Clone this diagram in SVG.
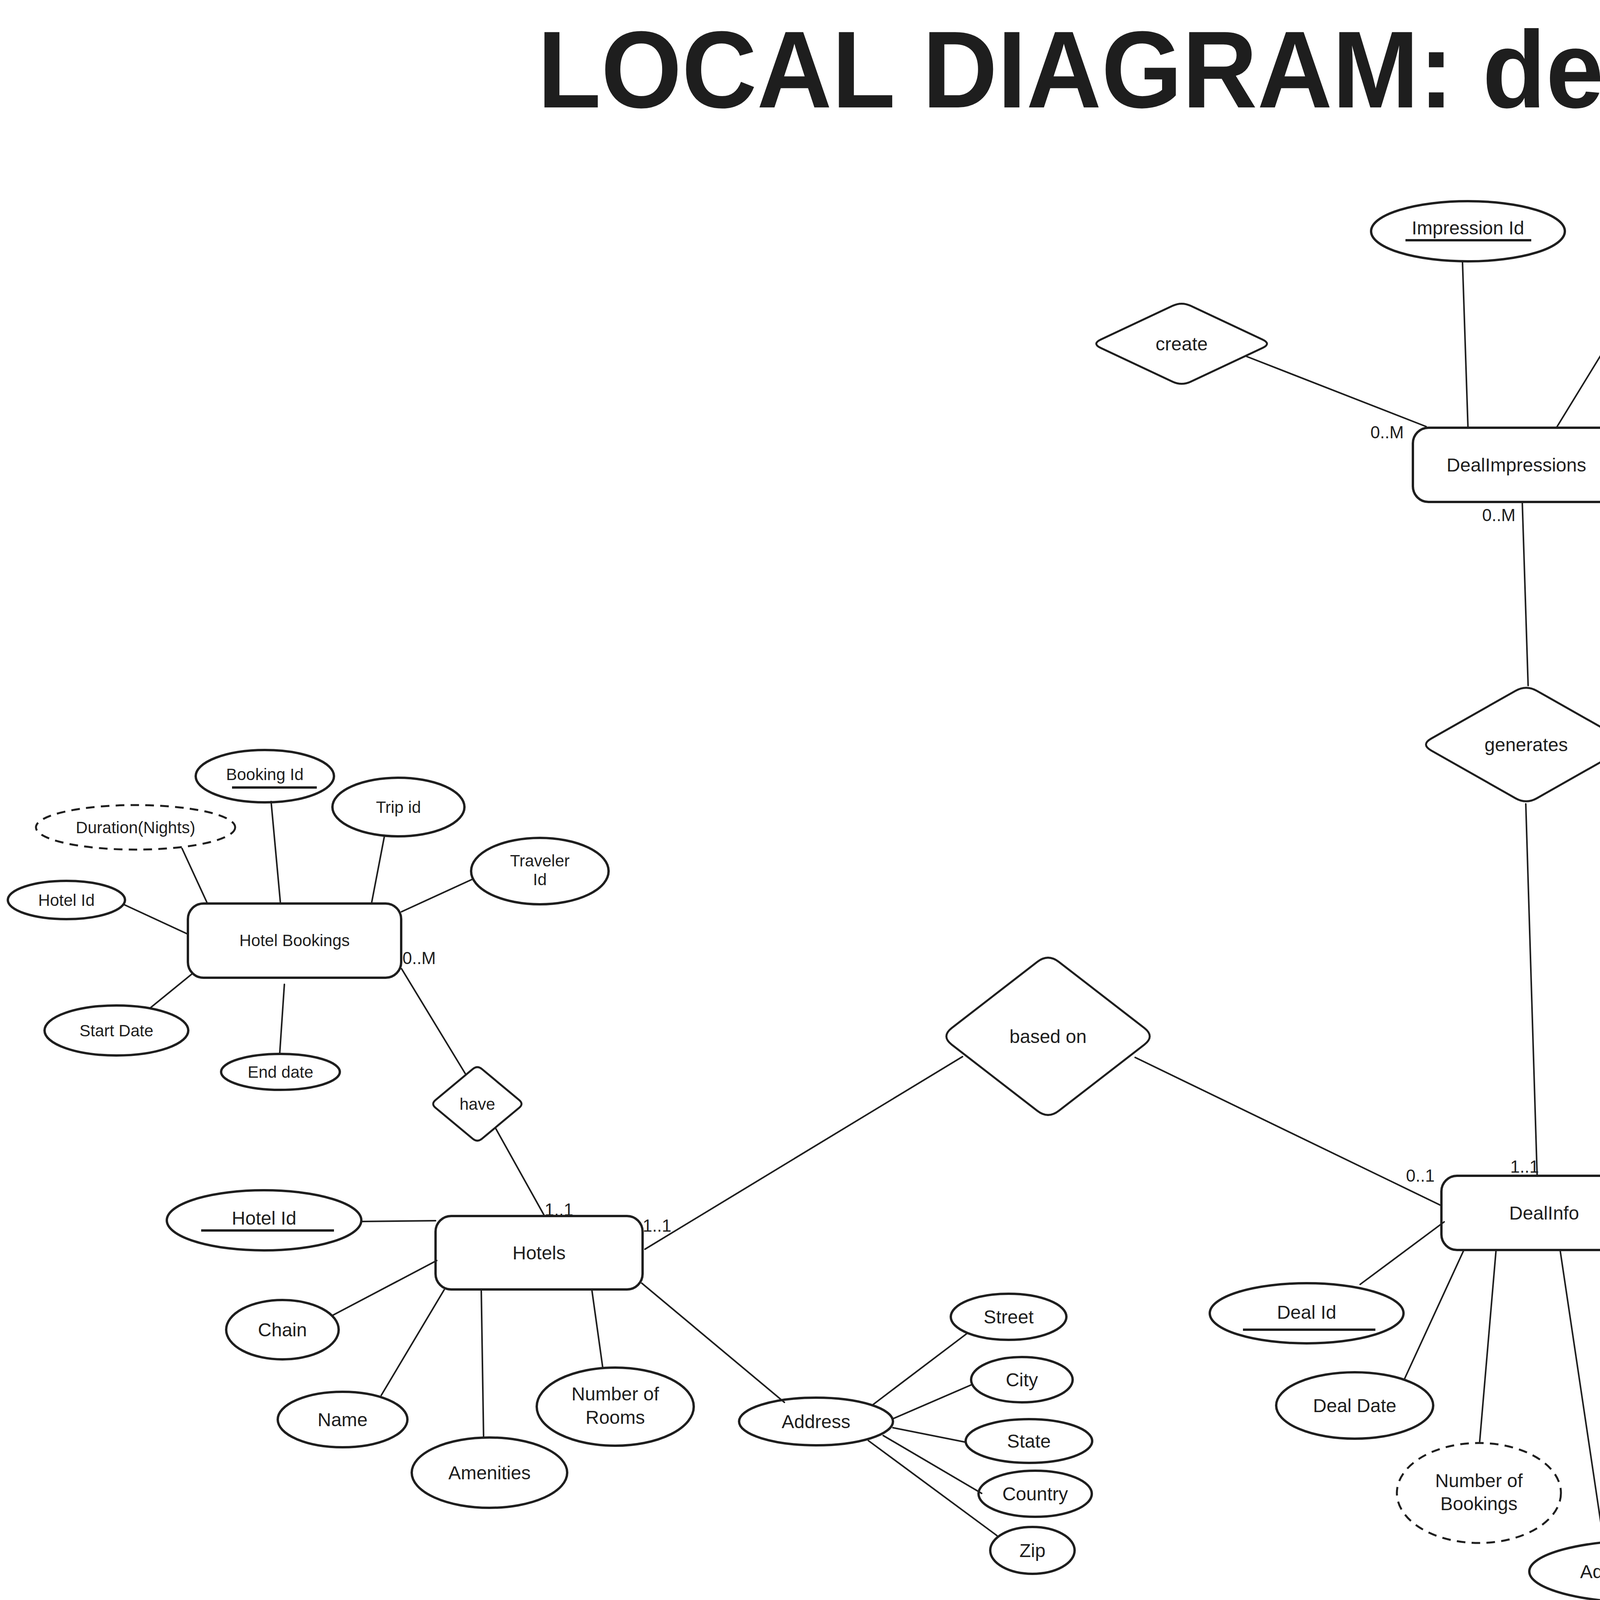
<svg xmlns="http://www.w3.org/2000/svg" width="7934" height="4125" viewBox="0 0 7934 4125">
<defs>
<style>
.bg{fill:#ffffff}
.ent{fill:none;stroke:#1e1e1e;stroke-width:6;stroke-linejoin:round}
.att{fill:none;stroke:#1e1e1e;stroke-width:6}
.der{fill:none;stroke:#1e1e1e;stroke-width:5;stroke-dasharray:22 16}
.rel{fill:none;stroke:#1e1e1e;stroke-width:5;stroke-linejoin:round}
.ul{stroke:#1e1e1e;stroke-width:6}
.con line{stroke:#1e1e1e;stroke-width:4;stroke-linecap:round}
text{font-family:"Liberation Sans",Arial,sans-serif;fill:#1e1e1e;text-anchor:middle}
.t{font-size:48px}
.ts{font-size:42px}
.card{font-size:44px}
.title{font-size:280px;font-weight:700;text-anchor:start}
</style>
</defs>
<rect class="bg" x="0" y="0" width="7934" height="4125"/>
<text class="title" x="1376" y="275" textLength="3927" lengthAdjust="spacingAndGlyphs">LOCAL DIAGRAM: dealAdmins</text>

<g id="connectors" class="con">
<line x1="3190" y1="912" x2="3651" y2="1092"/>
<line x1="3744" y1="671" x2="3758" y2="1094"/>
<line x1="4189" y1="761" x2="3985" y2="1094"/>
<line x1="4484" y1="931" x2="4142" y2="1104"/>
<line x1="4147" y1="1197" x2="4506" y2="1194"/>
<line x1="4144" y1="1271" x2="4392" y2="1457"/>
<line x1="3897" y1="1285" x2="3912" y2="1755"/>
<line x1="3906" y1="2058" x2="3935" y2="3008"/>
<line x1="2464" y1="2705" x2="1651" y2="3198"/>
<line x1="2906" y1="2707" x2="3691" y2="3087"/>
<line x1="4219" y1="3085" x2="4826" y2="3033"/>
<line x1="5441" y1="3026" x2="6183" y2="3021"/>
<line x1="3697" y1="3128" x2="3482" y2="3288"/>
<line x1="3748" y1="3199" x2="3596" y2="3529"/>
<line x1="3830" y1="3199" x2="3788" y2="3690"/>
<line x1="3994" y1="3201" x2="4105" y2="3945"/>
<line x1="4155" y1="3201" x2="4342" y2="3730"/>
<line x1="4214" y1="3187" x2="4394" y2="3476"/>
<line x1="4220" y1="3138" x2="4412" y2="3234"/>
<line x1="6066" y1="2562" x2="6203" y2="2915"/>
<line x1="6432" y1="2272" x2="6438" y2="2913"/>
<line x1="6765" y1="2406" x2="6575" y2="2913"/>
<line x1="7000" y1="2665" x2="6694" y2="2921"/>
<line x1="7295" y1="2360" x2="7192" y2="2513"/>
<line x1="7543" y1="2500" x2="7330" y2="2556"/>
<line x1="6718" y1="3003" x2="7115" y2="3026"/>
<line x1="6624" y1="3104" x2="6663" y2="3333"/>
<line x1="466" y1="2172" x2="531" y2="2313"/>
<line x1="694" y1="2052" x2="718" y2="2313"/>
<line x1="984" y1="2141" x2="951" y2="2313"/>
<line x1="1209" y1="2251" x2="1028" y2="2334"/>
<line x1="318" y1="2316" x2="480" y2="2391"/>
<line x1="385" y1="2580" x2="493" y2="2492"/>
<line x1="728" y1="2520" x2="716" y2="2698"/>
<line x1="1028" y1="2480" x2="1192" y2="2750"/>
<line x1="1268" y1="2887" x2="1394" y2="3113"/>
<line x1="925" y1="3127" x2="1115" y2="3125"/>
<line x1="852" y1="3367" x2="1118" y2="3227"/>
<line x1="976" y1="3572" x2="1137" y2="3302"/>
<line x1="1232" y1="3301" x2="1238" y2="3680"/>
<line x1="1515" y1="3301" x2="1543" y2="3501"/>
<line x1="1643" y1="3285" x2="2008" y2="3590"/>
<line x1="2232" y1="3598" x2="2475" y2="3414"/>
<line x1="2286" y1="3632" x2="2487" y2="3545"/>
<line x1="2286" y1="3655" x2="2472" y2="3692"/>
<line x1="2261" y1="3675" x2="2513" y2="3823"/>
<line x1="2223" y1="3688" x2="2552" y2="3931"/>
</g>

<g id="DealImpressions"><rect class="ent" x="3617" y="1095" width="530" height="190" rx="40"/><text class="t" x="3882" y="1207">DealImpressions</text></g>
<g id="impressionId"><ellipse class="att" cx="3758" cy="592" rx="248" ry="77"/><text class="t" x="3758" y="600">Impression Id</text><line class="ul" x1="3598" y1="615" x2="3920" y2="615"/></g>
<g id="travelerId1"><ellipse class="att" cx="4320" cy="690" rx="199" ry="100"/><text class="t" x="4320" y="676">Traveler</text><text class="t" x="4320" y="734">Id</text></g>
<g id="timestamp"><ellipse class="att" cx="4682" cy="922" rx="200" ry="56"/><text class="t" x="4682" y="939">Timestamp</text></g>
<g id="clicked"><ellipse class="att" cx="4672" cy="1210" rx="165" ry="63"/><text class="t" x="4672" y="1227">Clicked</text></g>
<g id="dealId1"><ellipse class="att" cx="4522" cy="1518" rx="205" ry="93"/><text class="t" x="4522" y="1535">Deal Id</text></g>
<g id="create"><path class="rel" d="M3048 782.8 L3232 869.2 Q3255 880 3232 890.8 L3048 977.2 Q3025 988 3002 977.2 L2818 890.8 Q2795 880 2818 869.2 L3002 782.8 Q3025 772 3048 782.8 Z"/><text class="t" x="3025" y="897">create</text></g>
<g id="generates"><path class="rel" d="M3934 1768.3 L4150 1890.7 Q4177 1906 4150 1921.3 L3934 2043.7 Q3907 2059 3880 2043.7 L3664 1921.3 Q3637 1906 3664 1890.7 L3880 1768.3 Q3907 1753 3934 1768.3 Z"/><text class="t" x="3907" y="1923">generates</text></g>

<g id="basedOn"><path class="rel" d="M2710.4 2462.2 L2929.6 2631.8 Q2957 2653 2929.6 2674.2 L2710.4 2843.8 Q2683 2865 2655.6 2843.8 L2436.4 2674.2 Q2409 2653 2436.4 2631.8 L2655.6 2462.2 Q2683 2441 2710.4 2462.2 Z"/><text class="t" x="2683" y="2670">based on</text></g>
<g id="post"><path class="rel" d="M5164 2803.7 L5412 3001.3 Q5443 3026 5412 3050.7 L5164 3248.3 Q5133 3273 5102 3248.3 L4854 3050.7 Q4823 3026 4854 3001.3 L5102 2803.7 Q5133 2779 5164 2803.7 Z"/><text class="t" x="5133" y="3043">post</text></g>
<g id="have"><path class="rel" d="M1233.9 2736.9 L1329.1 2816.1 Q1341 2826 1329.1 2835.9 L1233.9 2915.1 Q1222 2925 1210.1 2915.1 L1114.9 2835.9 Q1103 2826 1114.9 2816.1 L1210.1 2736.9 Q1222 2727 1233.9 2736.9 Z"/><text class="ts" x="1222" y="2841">have</text></g>

<g id="DealInfo"><rect class="ent" x="3690" y="3010" width="527" height="190" rx="40"/><text class="t" x="3953" y="3122">DealInfo</text></g>
<g id="dealId2"><ellipse class="att" cx="3345" cy="3362" rx="248" ry="77"/><text class="t" x="3345" y="3376">Deal Id</text><line class="ul" x1="3182" y1="3404" x2="3521" y2="3404"/></g>
<g id="dealDate"><ellipse class="att" cx="3468" cy="3598" rx="201" ry="85"/><text class="t" x="3468" y="3615">Deal Date</text></g>
<g id="numBookings"><ellipse class="der" cx="3786" cy="3822" rx="210" ry="128"/><text class="t" x="3786" y="3807">Number of</text><text class="t" x="3786" y="3866">Bookings</text></g>
<g id="administratorId"><ellipse class="att" cx="4213" cy="4023" rx="298" ry="80"/><text class="t" x="4213" y="4040">Administrator Id</text></g>
<g id="hotelId2"><ellipse class="att" cx="4503" cy="3786" rx="200" ry="89"/><text class="t" x="4503" y="3803">Hotel Id</text></g>
<g id="hotelName"><ellipse class="att" cx="4556" cy="3528" rx="199" ry="89"/><text class="t" x="4556" y="3545">Hotel Name</text></g>
<g id="description"><ellipse class="att" cx="4578" cy="3281" rx="202" ry="90"/><text class="t" x="4578" y="3298">Description</text></g>

<g id="DealAdministrators"><rect class="ent" x="6183" y="2915" width="535" height="188" rx="40"/><text class="t" x="6450" y="3027">DealAdministrators</text></g>
<g id="adminId"><ellipse class="att" cx="5967" cy="2494" rx="248" ry="79"/><text class="t" x="5967" y="2505">Admin Id</text><line class="ul" x1="5808" y1="2519" x2="6143" y2="2519"/></g>
<g id="username"><ellipse class="att" cx="6470" cy="2182" rx="199" ry="90"/><text class="t" x="6470" y="2199">Username</text></g>
<g id="password"><ellipse class="att" cx="6817" cy="2327" rx="179" ry="87"/><text class="t" x="6817" y="2344">Password</text></g>
<g id="firstName"><ellipse class="att" cx="7374" cy="2276" rx="198" ry="87"/><text class="t" x="7374" y="2293">First Name</text></g>
<g id="lastName"><ellipse class="att" cx="7701" cy="2437" rx="217" ry="89"/><text class="t" x="7701" y="2454">Last Name</text></g>
<g id="adminName"><ellipse class="att" cx="7157" cy="2602" rx="200" ry="89"/><text class="t" x="7157" y="2619">Name</text></g>
<g id="numDealsPosted"><ellipse class="der" cx="7408" cy="3055" rx="293" ry="115"/><text class="t" x="7408" y="3040">Number of Deals</text><text class="t" x="7408" y="3097">Posted</text></g>
<g id="companyName"><ellipse class="att" cx="6747" cy="3420" rx="260" ry="90"/><text class="t" x="6747" y="3437">Company Name</text></g>

<g id="HotelBookings"><rect class="ent" x="481" y="2313" width="546" height="190" rx="40"/><text class="ts" x="754" y="2422">Hotel Bookings</text></g>
<g id="bookingId"><ellipse class="att" cx="678" cy="1987" rx="177" ry="67"/><text class="ts" x="678" y="1997">Booking Id</text><line class="ul" x1="594" y1="2016" x2="811" y2="2016"/></g>
<g id="tripId"><ellipse class="att" cx="1020" cy="2066" rx="169" ry="75"/><text class="ts" x="1020" y="2081">Trip id</text></g>
<g id="travelerId2"><ellipse class="att" cx="1382" cy="2230" rx="176" ry="85"/><text class="ts" x="1382" y="2218">Traveler</text><text class="ts" x="1382" y="2266">Id</text></g>
<g id="duration"><ellipse class="der" cx="347" cy="2118" rx="255" ry="57"/><text class="ts" x="347" y="2133">Duration(Nights)</text></g>
<g id="hotelId1"><ellipse class="att" cx="170" cy="2304" rx="150" ry="49"/><text class="ts" x="170" y="2319">Hotel Id</text></g>
<g id="startDate"><ellipse class="att" cx="298" cy="2638" rx="184" ry="64"/><text class="ts" x="298" y="2653">Start Date</text></g>
<g id="endDate"><ellipse class="att" cx="718" cy="2744" rx="152" ry="46"/><text class="ts" x="718" y="2759">End date</text></g>

<g id="Hotels"><rect class="ent" x="1115" y="3113" width="530" height="188" rx="40"/><text class="t" x="1380" y="3224">Hotels</text></g>
<g id="hotelId3"><ellipse class="att" cx="676" cy="3124" rx="249" ry="77"/><text class="t" x="676" y="3135">Hotel Id</text><line class="ul" x1="515" y1="3150" x2="855" y2="3150"/></g>
<g id="chain"><ellipse class="att" cx="723" cy="3404" rx="144" ry="76"/><text class="t" x="723" y="3421">Chain</text></g>
<g id="hotelName2"><ellipse class="att" cx="877" cy="3634" rx="166" ry="71"/><text class="t" x="877" y="3651">Name</text></g>
<g id="amenities"><ellipse class="att" cx="1253" cy="3770" rx="199" ry="90"/><text class="t" x="1253" y="3787">Amenities</text></g>
<g id="numRooms"><ellipse class="att" cx="1575" cy="3601" rx="201" ry="100"/><text class="t" x="1575" y="3585">Number of</text><text class="t" x="1575" y="3645">Rooms</text></g>
<g id="address"><ellipse class="att" cx="2089" cy="3639" rx="197" ry="61"/><text class="t" x="2089" y="3656">Address</text></g>
<g id="street"><ellipse class="att" cx="2582" cy="3371" rx="148" ry="59"/><text class="t" x="2582" y="3388">Street</text></g>
<g id="city"><ellipse class="att" cx="2616" cy="3532" rx="130" ry="58"/><text class="t" x="2616" y="3549">City</text></g>
<g id="state"><ellipse class="att" cx="2634" cy="3689" rx="162" ry="56"/><text class="t" x="2634" y="3706">State</text></g>
<g id="country"><ellipse class="att" cx="2650" cy="3824" rx="145" ry="59"/><text class="t" x="2650" y="3841">Country</text></g>
<g id="zip"><ellipse class="att" cx="2643" cy="3969" rx="108" ry="60"/><text class="t" x="2643" y="3986">Zip</text></g>

<g id="cardinalities">
<text class="card" x="3551" y="1122">0..M</text>
<text class="card" x="3837" y="1334">0..M</text>
<text class="card" x="1073" y="2468">0..M</text>
<text class="card" x="1431" y="3112">1..1</text>
<text class="card" x="1682" y="3153">1..1</text>
<text class="card" x="3636" y="3025">0..1</text>
<text class="card" x="3903" y="3002">1..1</text>
<text class="card" x="4275" y="3064">0..M</text>
<text class="card" x="6130" y="3016">1..1</text>
</g>
</svg>
